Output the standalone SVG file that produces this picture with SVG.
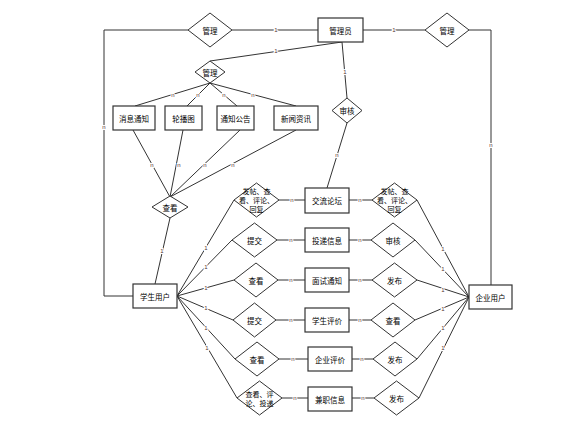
<svg xmlns="http://www.w3.org/2000/svg" width="569" height="432" viewBox="0 0 569 432">
<style>
.b{fill:#fff;stroke:#333;stroke-width:1.2}
.d{fill:#fff;stroke:#333;stroke-width:1}
.l{fill:none;stroke:#333;stroke-width:1}
.t{font-family:"Noto Sans CJK SC","Noto Sans",sans-serif;font-size:7.5px;fill:#000;text-anchor:middle;dominant-baseline:central}
.s{font-size:7px}
.c{font-family:"Liberation Sans",sans-serif;font-size:6px;fill:#533;text-anchor:middle;dominant-baseline:central;stroke:#fff;stroke-width:2;paint-order:stroke}
</style>
<rect width="569" height="432" fill="#fff"/>
<g id="connectors">
<polyline class="l" points="188,30 104,30 104,296 133,296"/>
<line class="l" x1="232" y1="30" x2="318" y2="30"/>
<line class="l" x1="363" y1="30" x2="425" y2="30"/>
<polyline class="l" points="469,30 491,30 491,285"/>
<line class="l" x1="210" y1="61" x2="342" y2="42"/>
<line class="l" x1="342" y1="42" x2="347" y2="98"/>
<line class="l" x1="347" y1="123" x2="327" y2="188"/>
<line class="l" x1="210" y1="83" x2="135" y2="106"/>
<line class="l" x1="210" y1="83" x2="187" y2="106"/>
<line class="l" x1="210" y1="83" x2="237" y2="106"/>
<line class="l" x1="210" y1="83" x2="296" y2="106"/>
<line class="l" x1="133" y1="130" x2="170" y2="197"/>
<line class="l" x1="183" y1="130" x2="170" y2="197"/>
<line class="l" x1="240" y1="130" x2="170" y2="197"/>
<line class="l" x1="296" y1="130" x2="170" y2="197"/>
<line class="l" x1="170" y1="218" x2="155" y2="284"/>
<line class="l" x1="177" y1="296" x2="234" y2="200"/>
<line class="l" x1="177" y1="296" x2="232" y2="240"/>
<line class="l" x1="177" y1="296" x2="234" y2="280"/>
<line class="l" x1="177" y1="296" x2="233" y2="320"/>
<line class="l" x1="177" y1="296" x2="235" y2="359"/>
<line class="l" x1="177" y1="296" x2="237" y2="398"/>
<line class="l" x1="469" y1="297" x2="417" y2="200"/>
<line class="l" x1="469" y1="297" x2="415" y2="240"/>
<line class="l" x1="469" y1="297" x2="417" y2="280"/>
<line class="l" x1="469" y1="297" x2="415" y2="320"/>
<line class="l" x1="469" y1="297" x2="417" y2="359"/>
<line class="l" x1="469" y1="297" x2="419" y2="398"/>
<line class="l" x1="279" y1="200" x2="305" y2="200"/>
<line class="l" x1="277" y1="240" x2="305" y2="240"/>
<line class="l" x1="278" y1="280" x2="305" y2="280"/>
<line class="l" x1="276" y1="320" x2="305" y2="320"/>
<line class="l" x1="279" y1="359" x2="308" y2="359"/>
<line class="l" x1="282" y1="398" x2="308" y2="398"/>
<line class="l" x1="349" y1="200" x2="372" y2="200"/>
<line class="l" x1="349" y1="240" x2="371" y2="240"/>
<line class="l" x1="349" y1="280" x2="372" y2="280"/>
<line class="l" x1="349" y1="320" x2="371" y2="320"/>
<line class="l" x1="352" y1="359" x2="373" y2="359"/>
<line class="l" x1="352" y1="398" x2="374" y2="398"/>
<text class="c" x="276" y="30">1</text>
<text class="c" x="394" y="30">1</text>
<text class="c" x="104" y="127">n</text>
<text class="c" x="491" y="145">n</text>
<text class="c" x="276" y="51">1</text>
<text class="c" x="345" y="72">1</text>
<text class="c" x="337" y="155">n</text>
<text class="c" x="173" y="95">n</text>
<text class="c" x="198" y="95">n</text>
<text class="c" x="224" y="95">n</text>
<text class="c" x="253" y="95">n</text>
<text class="c" x="152" y="165">n</text>
<text class="c" x="179" y="165">n</text>
<text class="c" x="205" y="165">n</text>
<text class="c" x="233" y="165">n</text>
<text class="c" x="162" y="251">1</text>
<text class="c" x="206" y="248">1</text>
<text class="c" x="206" y="267">1</text>
<text class="c" x="206" y="288">1</text>
<text class="c" x="206" y="308">1</text>
<text class="c" x="206" y="328">1</text>
<text class="c" x="207" y="348">1</text>
<text class="c" x="443" y="249">1</text>
<text class="c" x="443" y="269">1</text>
<text class="c" x="443" y="290">1</text>
<text class="c" x="443" y="309">1</text>
<text class="c" x="443" y="328">1</text>
<text class="c" x="443" y="348">1</text>
<text class="c" x="292" y="200">n</text>
<text class="c" x="291" y="240">n</text>
<text class="c" x="291" y="280">n</text>
<text class="c" x="291" y="320">n</text>
<text class="c" x="293" y="359">n</text>
<text class="c" x="295" y="398">n</text>
<text class="c" x="360" y="200">n</text>
<text class="c" x="360" y="240">n</text>
<text class="c" x="360" y="280">n</text>
<text class="c" x="360" y="320">n</text>
<text class="c" x="362" y="359">n</text>
<text class="c" x="363" y="398">n</text>
</g>
<g id="admin"><rect class="b" x="318" y="18" width="45" height="24"/><text class="t" x="340.5" y="30">管理员</text></g>
<g id="manage1"><polygon class="d" points="210,13 232,30 210,47 188,30"/><text class="t" x="210" y="30">管理</text></g>
<g id="manage2"><polygon class="d" points="447,13 469,30 447,47 425,30"/><text class="t" x="447" y="30">管理</text></g>
<g id="manage3"><polygon class="d" points="210,61 225,72 210,83 195,72"/><text class="t" x="210" y="72">管理</text></g>
<g id="audit1"><polygon class="d" points="347,98 362,110.5 347,123 332,110.5"/><text class="t" x="347" y="110.5">审核</text></g>
<g id="msg"><rect class="b" x="113" y="106" width="42" height="24"/><text class="t" x="134" y="118">消息通知</text></g>
<g id="carousel"><rect class="b" x="165" y="106" width="37" height="24"/><text class="t" x="183.5" y="118">轮播图</text></g>
<g id="notice"><rect class="b" x="217" y="106" width="37" height="24"/><text class="t" x="235.5" y="118">通知公告</text></g>
<g id="news"><rect class="b" x="274" y="106" width="44" height="24"/><text class="t" x="296" y="118">新闻资讯</text></g>
<g id="view1"><polygon class="d" points="170,196 188,207 170,218 152,207"/><text class="t" x="170" y="207">查看</text></g>
<g id="student"><rect class="b" x="133" y="284" width="44" height="24"/><text class="t" x="155" y="296">学生用户</text></g>
<g id="company"><rect class="b" x="469" y="285" width="43" height="24"/><text class="t" x="490.5" y="297">企业用户</text></g>
<g id="forum"><rect class="b" x="305" y="188" width="44" height="25"/><text class="t" x="327" y="200.5">交流论坛</text></g>
<g id="delivery"><rect class="b" x="305" y="228" width="44" height="24"/><text class="t" x="327" y="240">投递信息</text></g>
<g id="interview"><rect class="b" x="305" y="268" width="44" height="24"/><text class="t" x="327" y="280">面试通知</text></g>
<g id="stueval"><rect class="b" x="305" y="308" width="44" height="24"/><text class="t" x="327" y="320">学生评价</text></g>
<g id="comeval"><rect class="b" x="308" y="347" width="44" height="24"/><text class="t" x="330" y="359">企业评价</text></g>
<g id="job"><rect class="b" x="308" y="387" width="44" height="24"/><text class="t" x="330" y="399">兼职信息</text></g>
<g id="ld1"><polygon class="d" points="256.5,183 279,200 256.5,217 234,200"/><text class="t s" x="256.5" y="191">发帖、查</text><text class="t s" x="256.5" y="200">看、评论、</text><text class="t s" x="256.5" y="209">回复</text></g>
<g id="ld2"><polygon class="d" points="254.5,223 277,240 254.5,257 232,240"/><text class="t" x="254.5" y="240">提交</text></g>
<g id="ld3"><polygon class="d" points="256,263 278,280 256,297 234,280"/><text class="t" x="256" y="280">查看</text></g>
<g id="ld4"><polygon class="d" points="254.5,303 276,320 254.5,337 233,320"/><text class="t" x="254.5" y="320">提交</text></g>
<g id="ld5"><polygon class="d" points="257,342 279,359 257,376 235,359"/><text class="t" x="257" y="359">查看</text></g>
<g id="ld6"><polygon class="d" points="259.5,381 282,398 259.5,415 237,398"/><text class="t s" x="259.5" y="394">查看、评</text><text class="t s" x="259.5" y="403">论、投递</text></g>
<g id="rd1"><polygon class="d" points="394.5,183 417,200 394.5,217 372,200"/><text class="t s" x="394.5" y="191">发帖、查</text><text class="t s" x="394.5" y="200">看、评论、</text><text class="t s" x="394.5" y="209">回复</text></g>
<g id="rd2"><polygon class="d" points="393,223 415,240 393,257 371,240"/><text class="t" x="393" y="240">审核</text></g>
<g id="rd3"><polygon class="d" points="394.5,263 417,280 394.5,297 372,280"/><text class="t" x="394.5" y="280">发布</text></g>
<g id="rd4"><polygon class="d" points="393,303 415,320 393,337 371,320"/><text class="t" x="393" y="320">查看</text></g>
<g id="rd5"><polygon class="d" points="395,342 417,359 395,376 373,359"/><text class="t" x="395" y="359">发布</text></g>
<g id="rd6"><polygon class="d" points="396.5,381 419,398 396.5,415 374,398"/><text class="t" x="396.5" y="398">发布</text></g>
</svg>
